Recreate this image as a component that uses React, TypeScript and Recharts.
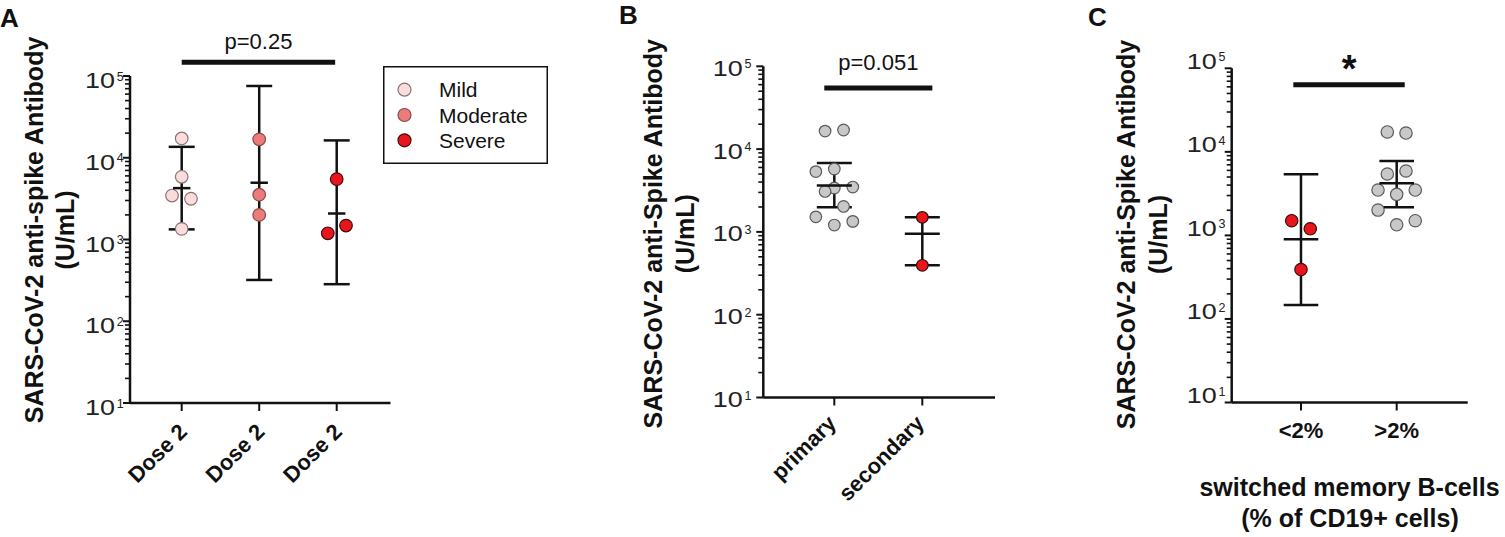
import { ScatterChart, Scatter, XAxis, YAxis, ErrorBar, ReferenceLine, Legend } from 'recharts'

// ---- shared log axis ----
const majorTicks = [10, 100, 1000, 10000, 100000]
const minorSteps = [2, 3, 4, 5, 6, 7, 8, 9]
const minorTicks = majorTicks.slice(0, -1).flatMap((t) => minorSteps.map((s) => t * s))

// ---- panel A: dose 2 by severity ----
const doseCategories = ['Dose 2', 'Dose 2', 'Dose 2']
const severityNames = ['Mild', 'Moderate', 'Severe']
const mildValues = [17200, 5850, 3450, 3150, 1350]
const mildJitter = [0, 0, -0.125, 0.12, 0]
const moderateValues = [16800, 3530, 2000]
const moderateJitter = [0, 0, 0]
const severeValues = [5480, 1190, 1480]
const severeJitter = [0, -0.115, 0.12]
const doseMeans = [4250, 4950, 2080]
const doseLows = [1330, 320, 284]
const doseHighs = [13600, 75500, 16300]

// ---- panel B: primary vs secondary ----
const infectionCategories = ['primary', 'secondary']
const primaryValues = [16500, 17000, 5350, 5750, 3480, 3390, 3080, 2030, 1520, 1210, 1340]
const primaryJitter = [-0.105, 0.105, -0.21, 0, 0.21, 0, -0.105, 0.105, -0.21, 0, 0.21]
const secondaryValues = [1500, 395]
const secondaryJitter = [0, 0]
const infectionMeans = [3640, 950]
const infectionLows = [1980, 395]
const infectionHighs = [6780, 1500]

// ---- panel C: switched memory B-cells ----
const memoryCategories = ['<2%', '>2%']
const lowMemoryValues = [1500, 1200, 390]
const lowMemoryJitter = [-0.097, 0.097, 0]
const highMemoryValues = [17300, 16800, 5430, 5900, 3490, 3100, 3490, 2010, 1340, 1500]
const highMemoryJitter = [-0.098, 0.097, -0.098, 0.097, -0.195, 0, 0.194, -0.195, 0, 0.194]
const memoryMeans = [900, 4200]
const memoryLows = [147, 2170]
const memoryHighs = [5400, 7760]

// significance annotations
const sigLabels = ['p=0.25', 'p=0.051', '*']
const sigLevels = [147000, 54700, 63700]

const INK = '#111'
const severityFill = ['#fbdcdc', '#ec7b7b', '#e8161c']
const severityStroke = ['#8a7272', '#8c4a4a', '#4a0a0a']
const grayFill = '#c8c8c8'
const grayStroke = '#5a5a5a'

const toPoints = (values: number[], jitter: number[], cat: number) =>
  values.map((y, i) => ({ x: cat + jitter[i], y }))

const toSummary = (means: number[], lows: number[], highs: number[]) =>
  means.map((m, i) => ({ x: i + 1, y: m, err: [m - lows[i], highs[i] - m] }))

const dot = (fill: string, stroke: string, r: number) => (props: any) =>
  <circle cx={props.cx} cy={props.cy} r={r} fill={fill} stroke={stroke} strokeWidth={1.2} />

const meanLine = (half: number) => (props: any) =>
  <line x1={props.cx - half} x2={props.cx + half} y1={props.cy} y2={props.cy} stroke={INK} strokeWidth={2.5} />

// minor log ticks: a horizontal reference line reduced to a short stub left of the y axis
const minorTickShape = (props: any) =>
  <line x1={props.x1 - 5} x2={props.x1} y1={props.y1} y2={props.y1} stroke={INK} strokeWidth={1.6} />

function makeYTick(labelGap: number, baselineShift: number) {
  return (props: any) => {
    const { x, y, payload } = props
    const exp = Math.round(Math.log10(payload.value))
    return (
      <g>
        <line x1={x - 7} x2={x} y1={y} y2={y} stroke={INK} strokeWidth={2} />
        <text x={x - labelGap} y={y + baselineShift} textAnchor="end" fontSize={22} fill="#222"
          textLength={30} lengthAdjust="spacingAndGlyphs">10</text>
        <text x={x - labelGap + 1.7} y={y + baselineShift - 7.5} fontSize={12.5} fill="#222">{exp}</text>
      </g>
    )
  }
}

function makeXTick(categories: string[], mode: 'rot' | 'flat', dx: number, dy: number) {
  return (props: any) => {
    const { x, y, payload } = props
    const label = categories[payload.value - 1]
    const tx = x + dx
    const ty = y + dy
    return (
      <g>
        <line x1={x} x2={x} y1={y} y2={y + 8} stroke={INK} strokeWidth={2} />
        {mode === 'rot' ? (
          <text x={tx} y={ty} transform={`rotate(-45 ${tx} ${ty})`} textAnchor="end" fontSize={22}
            fontWeight="bold" fill={INK}>{label}</text>
        ) : (
          <text x={tx} y={ty} textAnchor="middle" fontSize={22} fontWeight="bold" fill={INK}>{label}</text>
        )}
      </g>
    )
  }
}

const renderSeverityLegend = () => (
  <svg width={165} height={98} style={{ display: 'block' }}>
    <rect x={0.75} y={0.75} width={163.5} height={96.5} fill="#fff" stroke={INK} strokeWidth={1.5} />
    {severityNames.map((name, i) => (
      <g key={name}>
        <circle cx={21.5} cy={23.7 + i * 25.3} r={6.5} fill={severityFill[i]} stroke={severityStroke[i]} strokeWidth={1.2} />
        <text x={56} y={23.7 + i * 25.3 + 7.5} fontSize={21} fill={INK}>{name}</text>
      </g>
    ))}
  </svg>
)

const axisLineStyle = { stroke: INK, strokeWidth: 2.5 }

function axes(domain: number[], ticks: number[], tick: any, labelGap: number, baselineShift: number) {
  return [
    <XAxis key="x" type="number" dataKey="x" domain={domain} allowDataOverflow ticks={ticks}
      interval={0} height={100} axisLine={axisLineStyle} tickLine={false} tickSize={0} tickMargin={0}
      tick={tick} />,
    <YAxis key="y" type="number" dataKey="y" scale="log" domain={[10, 100000]} ticks={majorTicks}
      interval={0} width={60} axisLine={axisLineStyle} tickLine={false} tickSize={0} tickMargin={0}
      tick={makeYTick(labelGap, baselineShift)} />,
    ...minorTicks.map((t) => (
      <ReferenceLine key={`m${t}`} y={t} ifOverflow="visible" shape={minorTickShape} />
    )),
  ]
}

function App() {
  const summaryA = toSummary(doseMeans, doseLows, doseHighs)
  const summaryB = toSummary(infectionMeans, infectionLows, infectionHighs)
  const summaryC = toSummary(memoryMeans, memoryLows, memoryHighs)
  const groupsA = [
    toPoints(mildValues, mildJitter, 1),
    toPoints(moderateValues, moderateJitter, 2),
    toPoints(severeValues, severeJitter, 3),
  ]

  return (
    <div style={{ position: 'absolute', left: 0, top: 0, width: 1505, height: 537, background: '#fff',
      fontFamily: '"Liberation Sans", Arial, sans-serif' }}>
      {/* Panel A */}
      <div style={{ position: 'absolute', left: 0, top: 0 }}>
        <ScatterChart width={560} height={537} margin={{ top: 76, right: 169.5, bottom: 34, left: 70 }}>
          {axes([0.333, 3.694], [1, 2, 3], makeXTick(doseCategories, 'rot', 6.6, 30), 15, 12)}
          {groupsA.map((pts, i) => (
            <Scatter key={severityNames[i]} name={severityNames[i]} data={pts} isAnimationActive={false}
              fill={severityFill[i]} shape={dot(severityFill[i], severityStroke[i], 6.3)} />
          ))}
          <Scatter data={summaryA} isAnimationActive={false} shape={meanLine(8.7)} legendType="none">
            <ErrorBar dataKey="err" direction="y" width={13} stroke={INK} strokeWidth={2.5} />
          </Scatter>
          <ReferenceLine segment={[{ x: 1, y: sigLevels[0] }, { x: 2.98, y: sigLevels[0] }]} stroke={INK}
            strokeWidth={5} ifOverflow="visible"
            label={{ value: sigLabels[0], position: 'top', offset: 13, fill: INK, fontSize: 22 }} />
          <Legend layout="vertical" align="center" verticalAlign="middle"
            wrapperStyle={{ left: 383, top: 66, width: 165, height: 98 }} content={renderSeverityLegend} />
        </ScatterChart>
      </div>

      {/* Panel B */}
      <div style={{ position: 'absolute', left: 560, top: 0 }}>
        <ScatterChart width={470} height={537} margin={{ top: 66.3, right: 35, bottom: 39.5, left: 143.3 }}>
          {axes([0.193, 2.826], [1, 2], makeXTick(infectionCategories, 'rot', 3.2, 27), 20.6, 9.5)}
          <Scatter name="primary" data={toPoints(primaryValues, primaryJitter, 1)} isAnimationActive={false}
            shape={dot(grayFill, grayStroke, 5.8)} />
          <Scatter name="secondary" data={toPoints(secondaryValues, secondaryJitter, 2)} isAnimationActive={false}
            shape={dot(severityFill[2], '#3a0a0a', 5.8)} />
          <Scatter data={summaryB} isAnimationActive={false} shape={meanLine(17.5)}>
            <ErrorBar dataKey="err" direction="y" width={17.5} stroke={INK} strokeWidth={2.5} />
          </Scatter>
          <ReferenceLine segment={[{ x: 0.886, y: sigLevels[1] }, { x: 2.114, y: sigLevels[1] }]} stroke={INK}
            strokeWidth={5} ifOverflow="visible"
            label={{ value: sigLabels[1], position: 'top', offset: 18, fill: INK, fontSize: 22 }} />
        </ScatterChart>
      </div>

      {/* Panel C */}
      <div style={{ position: 'absolute', left: 1030, top: 0 }}>
        <ScatterChart width={475} height={537} margin={{ top: 68.3, right: 37.3, bottom: 34.5, left: 141.7 }}>
          {axes([0.276, 2.742], [1, 2], makeXTick(memoryCategories, 'flat', 0, 35), 15, 0.5)}
          <Scatter name="<2%" data={toPoints(lowMemoryValues, lowMemoryJitter, 1)} isAnimationActive={false}
            shape={dot(severityFill[2], '#3a0a0a', 6.2)} />
          <Scatter name=">2%" data={toPoints(highMemoryValues, highMemoryJitter, 2)} isAnimationActive={false}
            shape={dot(grayFill, grayStroke, 6.2)} />
          <Scatter data={summaryC} isAnimationActive={false} shape={meanLine(17.3)}>
            <ErrorBar dataKey="err" direction="y" width={17.3} stroke={INK} strokeWidth={2.5} />
          </Scatter>
          <ReferenceLine segment={[{ x: 0.92, y: sigLevels[2] }, { x: 2.084, y: sigLevels[2] }]} stroke={INK}
            strokeWidth={5} ifOverflow="visible"
            label={{ value: sigLabels[2], position: 'top', offset: 3, fill: INK, fontSize: 38, fontWeight: 'bold' }} />
        </ScatterChart>
      </div>

      {/* titles and panel letters */}
      <svg width={1505} height={537} style={{ position: 'absolute', left: 0, top: 0, pointerEvents: 'none' }}
        fontWeight="bold" fill={INK}>
        <text x={0} y={27} fontSize={26}>A</text>
        <text x={619} y={24} fontSize={26}>B</text>
        <text x={1088} y={26} fontSize={26}>C</text>

        <text x={42.5} y={230} fontSize={25} textAnchor="middle" transform="rotate(-90 42.5 230)">SARS-CoV-2 anti-spike Antibody</text>
        <text x={74} y={230} fontSize={25} textAnchor="middle" transform="rotate(-90 74 230)">(U/mL)</text>

        <text x={662} y={233.7} fontSize={25} textAnchor="middle" transform="rotate(-90 662 233.7)">SARS-CoV-2 anti-Spike Antibody</text>
        <text x={694} y={233.7} fontSize={25} textAnchor="middle" transform="rotate(-90 694 233.7)">(U/mL)</text>

        <text x={1135} y={234.5} fontSize={25} textAnchor="middle" transform="rotate(-90 1135 234.5)">SARS-CoV-2 anti-Spike Antibody</text>
        <text x={1167} y={234.5} fontSize={25} textAnchor="middle" transform="rotate(-90 1167 234.5)">(U/mL)</text>

        <text x={1349.5} y={496} fontSize={25} textAnchor="middle">switched memory B-cells</text>
        <text x={1350} y={527} fontSize={25} textAnchor="middle">(% of CD19+ cells)</text>
      </svg>
    </div>
  )
}

export default App
